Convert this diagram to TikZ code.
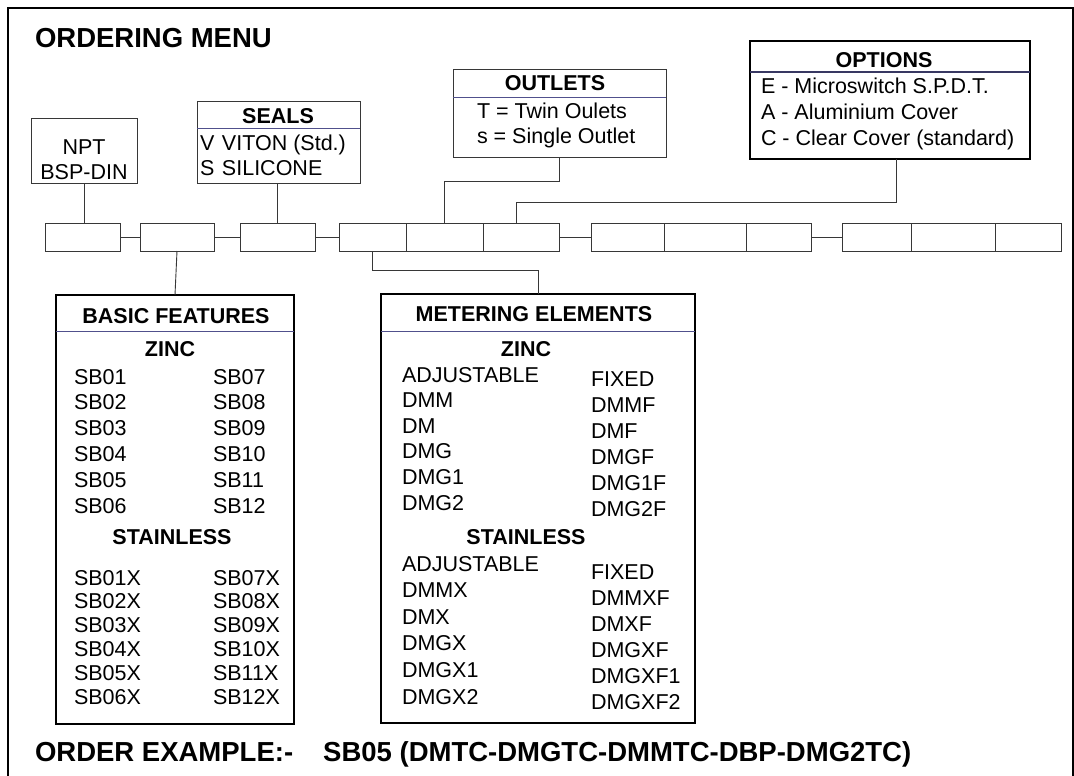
\documentclass[tikz,border=0pt]{standalone}
\usepackage{fontspec}
\setmainfont{Liberation Sans}
\usetikzlibrary{positioning}
\definecolor{rulebl}{RGB}{80,80,140}
\definecolor{edgegr}{RGB}{55,55,55}
\newcommand{\bodyfnt}{\fontsize{21.5}{26}\selectfont}
\newcommand{\headfnt}{\fontsize{21.5}{26}\selectfont\bfseries}
\newcommand{\bigfnt}{\fontsize{27.5}{32}\selectfont\bfseries}

\begin{document}
\begin{tikzpicture}
  [x=1pt, y=-1pt,
   every node/.style={inner sep=0pt, outer sep=0pt},
   slot/.style={draw=edgegr, line width=0.9pt, minimum height=28pt},
   menubox/.style={draw=edgegr, line width=0.9pt, anchor=north west},
   listbox/.style={draw=black, line width=1.4pt, anchor=north west},
   optbox/.style={draw=black, line width=2pt, anchor=north west},
   hrule/.style={draw=rulebl, line width=1pt},
   hd/.style={font=\headfnt, anchor=base},
   it/.style={font=\bodyfnt, anchor=base west},
   wire/.style={draw=edgegr, line width=0.9pt}
  ]
  \useasboundingbox (0,0) rectangle (1074,776);
  \draw[line width=1.5pt] (8,776) -- (8,8) -- (1073,8) -- (1073,776);

  \node[font=\bigfnt, anchor=base west] (title) at (35,48) {ORDERING MENU};

  % boxes above the code row
  \node[menubox, minimum width=106pt, minimum height=65pt] (npt) at (31,118) {};
  \node[font=\bodyfnt, anchor=base] (npt1) at (84,154) {NPT};
  \node[font=\bodyfnt, anchor=base] (npt2) at (84,179) {BSP-DIN};

  \node[menubox, minimum width=163pt, minimum height=82pt] (seals) at (197,101) {};
  \draw[hrule] (seals.west |- 0,128) -- (seals.east |- 0,128);
  \node[hd] (sealshd) at (278,123) {SEALS};
  \node[it] (sealv) at (200,150) {\makebox[22pt][l]{V}VITON (Std.)};
  \node[it] (seals2) at (200,175) {\makebox[22pt][l]{S}SILICONE};

  \node[menubox, minimum width=213pt, minimum height=88pt] (outlets) at (453,69) {};
  \draw[hrule] (outlets.west |- 0,97) -- (outlets.east |- 0,97);
  \node[hd] (outhd) at (555,91) {OUTLETS};
  \node[it] (outt) at (477,118) {T = Twin Oulets};
  \node[it] (outs) at (477,143) {s = Single Outlet};

  \node[optbox, minimum width=280pt, minimum height=118pt] (opts) at (750,41) {};
  \draw[draw=rulebl!70!black, line width=1.6pt] (opts.west |- 0,72) -- (opts.east |- 0,72);
  \node[hd] (optshd) at (884,67) {OPTIONS};
  \node[it] (opte) at (761,93) {E - Microswitch S.P.D.T.};
  \node[it] (opta) at (761,119) {A - Aluminium Cover};
  \node[it] (optc) at (761,145) {C - Clear Cover (standard)};

  % the code row
  \node[slot, minimum width=75pt, anchor=north west] (b1) at (45,223) {};
  \node[slot, minimum width=74pt, anchor=north west] (b2) at (140,223) {};
  \node[slot, minimum width=75pt, anchor=north west] (b3) at (240,223) {};
  \node[slot, minimum width=67pt, anchor=north west] (b4a) at (339,223) {};
  \node[slot, minimum width=77pt, right=0pt of b4a] (b4b) {};
  \node[slot, minimum width=76pt, right=0pt of b4b] (b4c) {};
  \node[slot, minimum width=73pt, anchor=north west] (b5a) at (591,223) {};
  \node[slot, minimum width=82pt, right=0pt of b5a] (b5b) {};
  \node[slot, minimum width=65pt, right=0pt of b5b] (b5c) {};
  \node[slot, minimum width=69pt, anchor=north west] (b6a) at (842,223) {};
  \node[slot, minimum width=84pt, right=0pt of b6a] (b6b) {};
  \node[slot, minimum width=66pt, right=0pt of b6b] (b6c) {};
  \draw[wire] (b1) -- (b2);
  \draw[wire] (b2) -- (b3);
  \draw[wire] (b3) -- (b4a);
  \draw[wire] (b4c) -- (b5a);
  \draw[wire] (b5c) -- (b6a);

  \draw[wire] (npt.south) -- (npt.south |- b1.north);
  \draw[wire] (b3.north) -- (b3.north |- seals.south);
  \draw[wire] (outlets.south) -- (outlets.south |- 0,181) -| (b4b.north);
  \draw[wire] ([xshift=6pt]opts.south) -- ([xshift=6pt]opts.south |- 0,202) -| ([xshift=-5pt]b4c.north);

  % lists below the code row
  \node[listbox, minimum width=238pt, minimum height=429pt] (basic) at (56,295) {};
  \draw[hrule] (basic.west |- 0,331) -- (basic.east |- 0,331);
  \node[hd] (basichd) at (176,323) {BASIC FEATURES};
  \node[hd] (bzinc) at (170,356) {ZINC};
  \foreach \a/\b [count=\i] in {SB01/SB07,SB02/SB08,SB03/SB09,SB04/SB10,SB05/SB11,SB06/SB12}
  {
    \node[it] (bzl\i) at (74,{384+25.8*(\i-1)}) {\a};
    \node[it] (bzr\i) at (213,{384+25.8*(\i-1)}) {\b};
  }
  \node[hd] (bstain) at (172,544) {STAINLESS};
  \foreach \a/\b [count=\i] in {SB01X/SB07X,SB02X/SB08X,SB03X/SB09X,SB04X/SB10X,SB05X/SB11X,SB06X/SB12X}
  {
    \node[it] (bsl\i) at (74,{585+23.8*(\i-1)}) {\a};
    \node[it] (bsr\i) at (213,{585+23.8*(\i-1)}) {\b};
  }

  \node[listbox, minimum width=314pt, minimum height=429pt] (meter) at (381,294) {};
  \draw[hrule] (meter.west |- 0,331) -- (meter.east |- 0,331);
  \node[hd] (meterhd) at (534,321) {METERING ELEMENTS};
  \node[hd] (mzinc) at (526,356) {ZINC};
  \foreach \a/\b [count=\i] in {ADJUSTABLE/FIXED,DMM/DMMF,DM/DMF,DMG/DMGF,DMG1/DMG1F,DMG2/DMG2F}
  {
    \node[it] (mzl\i) at (402,{382+25.6*(\i-1)}) {\a};
    \node[it] (mzr\i) at (591,{386+26*(\i-1)}) {\b};
  }
  \node[hd] (mstain) at (526,544) {STAINLESS};
  \foreach \a/\b [count=\i] in {ADJUSTABLE/FIXED,DMMX/DMMXF,DMX/DMXF,DMGX/DMGXF,DMGX1/DMGXF1,DMGX2/DMGXF2}
  {
    \node[it] (msl\i) at (402,{571+26.6*(\i-1)}) {\a};
    \node[it] (msr\i) at (591,{579+26*(\i-1)}) {\b};
  }

  \draw[wire] (b2.south) -- (basic.north);
  \draw[wire] (b4a.south) -- (b4a.south |- 0,270) -| (meter.north);

  \node[font=\bigfnt, anchor=base west] (order) at (35,761)
    {ORDER EXAMPLE:-\hspace{30pt}SB05 (DMTC-DMGTC-DMMTC-DBP-DMG2TC)};
\end{tikzpicture}
\end{document}
